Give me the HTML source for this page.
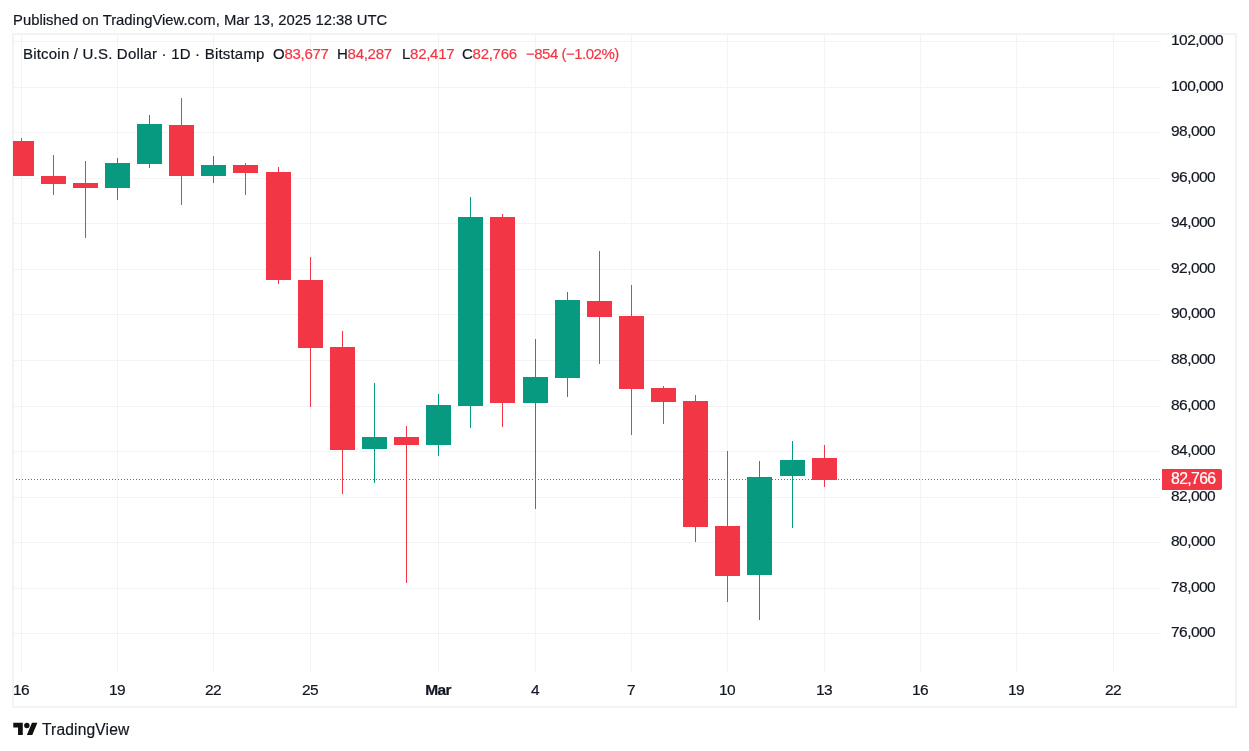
<!DOCTYPE html>
<html><head><meta charset="utf-8"><style>
html,body{margin:0;padding:0;background:#fff;}
body{width:1249px;height:751px;position:relative;overflow:hidden;font-family:"Liberation Sans",sans-serif;color:#131722;-webkit-text-stroke:0.2px currentColor;}
.t{position:absolute;white-space:nowrap;will-change:transform;}
.pl{position:absolute;will-change:transform;left:1171px;font-size:15.5px;letter-spacing:-0.55px;line-height:18px;white-space:nowrap;}
.dl{position:absolute;will-change:transform;top:681px;width:60px;text-align:center;font-size:15.5px;letter-spacing:-0.7px;line-height:18px;}
.b{font-weight:bold;}
.r{color:#F23645;}
</style></head><body>
<svg width="1249" height="751" viewBox="0 0 1249 751" style="position:absolute;left:0;top:0"><rect x="13" y="34" width="1223" height="673" fill="none" stroke="#F3F3F3" stroke-width="2"/><g fill="#F3F3F3"><rect x="14" y="41" width="1147" height="1"/><rect x="14" y="87" width="1147" height="1"/><rect x="14" y="132" width="1147" height="1"/><rect x="14" y="178" width="1147" height="1"/><rect x="14" y="223" width="1147" height="1"/><rect x="14" y="269" width="1147" height="1"/><rect x="14" y="314" width="1147" height="1"/><rect x="14" y="360" width="1147" height="1"/><rect x="14" y="406" width="1147" height="1"/><rect x="14" y="451" width="1147" height="1"/><rect x="14" y="497" width="1147" height="1"/><rect x="14" y="542" width="1147" height="1"/><rect x="14" y="588" width="1147" height="1"/><rect x="14" y="633" width="1147" height="1"/><rect x="21" y="35" width="1" height="637"/><rect x="117" y="35" width="1" height="637"/><rect x="213" y="35" width="1" height="637"/><rect x="310" y="35" width="1" height="637"/><rect x="438" y="35" width="1" height="637"/><rect x="535" y="35" width="1" height="637"/><rect x="631" y="35" width="1" height="637"/><rect x="727" y="35" width="1" height="637"/><rect x="824" y="35" width="1" height="637"/><rect x="920" y="35" width="1" height="637"/><rect x="1016" y="35" width="1" height="637"/><rect x="1113" y="35" width="1" height="637"/></g><g shape-rendering="crispEdges"><rect x="21" y="138" width="1" height="38" fill="#F23645"/><rect x="13" y="141" width="21" height="35" fill="#F23645"/><rect x="53" y="155" width="1" height="40" fill="#F23645"/><rect x="41" y="176" width="25" height="8" fill="#F23645"/><rect x="85" y="161" width="1" height="77" fill="#F23645"/><rect x="73" y="183" width="25" height="5" fill="#F23645"/><rect x="117" y="158" width="1" height="42" fill="#089981"/><rect x="105" y="163" width="25" height="25" fill="#089981"/><rect x="149" y="115" width="1" height="53" fill="#089981"/><rect x="137" y="124" width="25" height="40" fill="#089981"/><rect x="181" y="98" width="1" height="107" fill="#F23645"/><rect x="169" y="125" width="25" height="51" fill="#F23645"/><rect x="213" y="156" width="1" height="27" fill="#089981"/><rect x="201" y="165" width="25" height="11" fill="#089981"/><rect x="245" y="163" width="1" height="32" fill="#F23645"/><rect x="233" y="165" width="25" height="8" fill="#F23645"/><rect x="278" y="167" width="1" height="117" fill="#F23645"/><rect x="266" y="172" width="25" height="108" fill="#F23645"/><rect x="310" y="257" width="1" height="150" fill="#F23645"/><rect x="298" y="280" width="25" height="68" fill="#F23645"/><rect x="342" y="331" width="1" height="163" fill="#F23645"/><rect x="330" y="347" width="25" height="103" fill="#F23645"/><rect x="374" y="383" width="1" height="100" fill="#089981"/><rect x="362" y="437" width="25" height="12" fill="#089981"/><rect x="406" y="426" width="1" height="157" fill="#F23645"/><rect x="394" y="437" width="25" height="8" fill="#F23645"/><rect x="438" y="394" width="1" height="62" fill="#089981"/><rect x="426" y="405" width="25" height="40" fill="#089981"/><rect x="470" y="197" width="1" height="231" fill="#089981"/><rect x="458" y="217" width="25" height="189" fill="#089981"/><rect x="502" y="214" width="1" height="213" fill="#F23645"/><rect x="490" y="217" width="25" height="186" fill="#F23645"/><rect x="535" y="339" width="1" height="170" fill="#089981"/><rect x="523" y="377" width="25" height="26" fill="#089981"/><rect x="567" y="292" width="1" height="105" fill="#089981"/><rect x="555" y="300" width="25" height="78" fill="#089981"/><rect x="599" y="251" width="1" height="113" fill="#F23645"/><rect x="587" y="301" width="25" height="16" fill="#F23645"/><rect x="631" y="285" width="1" height="150" fill="#F23645"/><rect x="619" y="316" width="25" height="73" fill="#F23645"/><rect x="663" y="386" width="1" height="38" fill="#F23645"/><rect x="651" y="388" width="25" height="14" fill="#F23645"/><rect x="695" y="395" width="1" height="147" fill="#F23645"/><rect x="683" y="401" width="25" height="126" fill="#F23645"/><rect x="727" y="451" width="1" height="151" fill="#F23645"/><rect x="715" y="526" width="25" height="50" fill="#F23645"/><rect x="759" y="461" width="1" height="159" fill="#089981"/><rect x="747" y="477" width="25" height="98" fill="#089981"/><rect x="792" y="441" width="1" height="87" fill="#089981"/><rect x="780" y="460" width="25" height="16" fill="#089981"/><rect x="824" y="445" width="1" height="42" fill="#F23645"/><rect x="812" y="458" width="25" height="22" fill="#F23645"/></g><line x1="14" y1="479.5" x2="1161" y2="479.5" stroke="#F23645" stroke-width="1" stroke-dasharray="1 2" stroke-dashoffset="1"/></svg>
<div class="t" style="left:13px;top:11px;font-size:14.8px;letter-spacing:0.02px;line-height:18px;">Published on TradingView.com, Mar 13, 2025 12:38 UTC</div>
<div class="t" style="left:23px;top:45px;font-size:15px;line-height:18px;letter-spacing:0.2px;">Bitcoin / U.S. Dollar · 1D · Bitstamp</div>
<div class="t" style="left:273px;top:45px;font-size:15px;line-height:18px;letter-spacing:-0.27px;">O<span class="r">83,677</span></div>
<div class="t" style="left:337px;top:45px;font-size:15px;line-height:18px;letter-spacing:-0.27px;">H<span class="r">84,287</span></div>
<div class="t" style="left:402px;top:45px;font-size:15px;line-height:18px;letter-spacing:-0.27px;">L<span class="r">82,417</span></div>
<div class="t" style="left:462px;top:45px;font-size:15px;line-height:18px;letter-spacing:-0.27px;">C<span class="r">82,766</span></div>
<div class="t r" style="left:526px;top:45px;font-size:15px;line-height:18px;letter-spacing:-0.5px;">−854 (−1.02%)</div>
<div class="pl" style="top:31.0px">102,000</div><div class="pl" style="top:76.6px">100,000</div><div class="pl" style="top:122.1px">98,000</div><div class="pl" style="top:167.7px">96,000</div><div class="pl" style="top:213.3px">94,000</div><div class="pl" style="top:258.9px">92,000</div><div class="pl" style="top:304.4px">90,000</div><div class="pl" style="top:350.0px">88,000</div><div class="pl" style="top:395.6px">86,000</div><div class="pl" style="top:441.1px">84,000</div><div class="pl" style="top:486.7px">82,000</div><div class="pl" style="top:532.3px">80,000</div><div class="pl" style="top:577.8px">78,000</div><div class="pl" style="top:623.4px">76,000</div>
<div style="position:absolute;left:1162px;top:469px;width:60px;height:21px;background:#F23645;border-radius:0 2px 2px 0;"></div>
<div class="pl" style="top:469.5px;color:#fff;font-size:15.8px;letter-spacing:-0.65px;">82,766</div>
<div class="dl" style="left:-9.5px">16</div><div class="dl" style="left:86.5px">19</div><div class="dl" style="left:182.5px">22</div><div class="dl" style="left:279.5px">25</div><div class="dl b" style="left:407.5px">Mar</div><div class="dl" style="left:504.5px">4</div><div class="dl" style="left:600.5px">7</div><div class="dl" style="left:696.5px">10</div><div class="dl" style="left:793.5px">13</div><div class="dl" style="left:889.5px">16</div><div class="dl" style="left:985.5px">19</div><div class="dl" style="left:1082.5px">22</div>
<svg style="position:absolute;left:13px;top:720px" width="25" height="19" viewBox="0 0 36 28"><path d="M14 22H7V11H0V4h14v18zM28 22h-8l7.5-18h8L28 22z" fill="#111111"/><circle cx="20" cy="8" r="4" fill="#111111"/></svg>
<div class="t" style="left:42px;top:720px;font-size:15.6px;line-height:20px;letter-spacing:0.15px;">TradingView</div>
</body></html>
